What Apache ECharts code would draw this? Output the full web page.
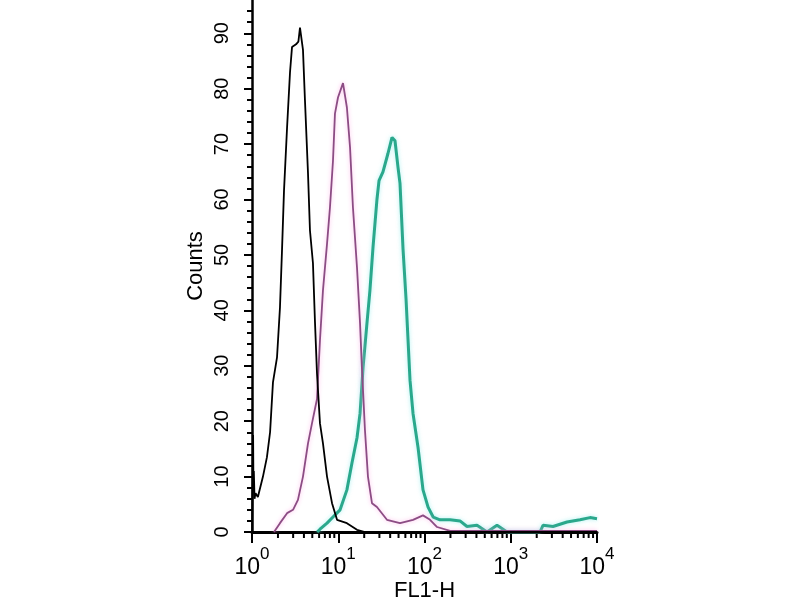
<!DOCTYPE html>
<html><head><meta charset="utf-8">
<script src="https://cdn.jsdelivr.net/npm/echarts@6/dist/echarts.min.js"></script>
<style>html,body{margin:0;padding:0;background:#fff}#c{width:800px;height:600px}</style>
</head><body><div id="c"></div>
<script>
// Control (black)
const controlX = [1.0, 1.03, 1.04, 1.05, 1.07, 1.1, 1.17, 1.34, 1.49, 1.62, 1.75, 1.95, 2.11, 2.23, 2.35, 2.55, 2.76, 2.91, 3.24, 3.45, 3.6, 3.9, 4.11, 4.46, 4.7, 5.09, 5.37, 5.67, 6.14, 6.65, 7.41, 8.47, 9.68, 12.6, 16.5, 20.4, 10000];
const controlY = [0, 17.5, 8, 11, 6, 7, 6.3, 10, 13.5, 18, 27, 31.5, 40.5, 51, 61.6, 73, 83, 87.5, 88, 88.5, 91, 87, 78, 64.7, 54.4, 48.5, 38, 28.6, 19.6, 16, 10, 5.2, 2.2, 1.6, 0.4, 0, 0];
// Purple
const purpleX = [1.8, 1.85, 2.11, 2.55, 2.99, 3.41, 3.9, 4.46, 4.96, 5.67, 6.14, 6.65, 7.41, 8.02, 8.69, 9.16, 9.93, 11.35, 12.6, 13.7, 14.8, 16.5, 17.9, 18.8, 20.4, 22.1, 24.6, 28.1, 36.7, 52, 73.6, 96, 116, 140, 198, 10000];
const purpleY = [0, 0.3, 1.6, 3.4, 4, 5.8, 10, 16, 19.6, 24, 34.6, 43.6, 52, 58.6, 67, 75.5, 78.4, 81, 76.6, 69.4, 58.6, 47.7, 37.6, 29.7, 18.4, 10, 5.2, 4.5, 2.2, 1.6, 2.2, 3, 2.2, 0.9, 0.2, 0.2];
// Green
const greenX = [5.7, 6.14, 7.41, 8.69, 10.5, 12.6, 14.4, 16.5, 17.9, 19.4, 21.5, 23.3, 25.3, 28.1, 29.7, 33, 37.7, 42, 45.5, 49.3, 52, 56.4, 61.1, 67.9, 73.6, 84.1, 96.1, 110, 126, 151, 198, 258, 311, 406, 531, 693, 906, 2183, 2366, 3090, 4487, 6353, 8298, 10000];
const greenY = [0, 0.5, 1.6, 2.7, 4, 7.6, 12.4, 17, 21.4, 29.7, 37.6, 43.6, 51.4, 60, 63.4, 65, 68.3, 71.2, 70.6, 65.8, 62.9, 51, 42, 27.4, 21.4, 15.3, 7.6, 4.5, 2.7, 2.2, 2.2, 2, 1, 1.2, 0, 1.2, 0, 0, 1.2, 1, 1.8, 2.2, 2.6, 2.4];
// Axis ticks
const yTicks = [0, 10, 20, 30, 40, 50, 60, 70, 80, 90];
const xDecades = [1, 10, 100, 1000, 10000];
const xName = 'FL1-H';
const yName = 'Counts';

const zip = (a, b) => a.map((v, i) => [v, b[i]]);
const chart = echarts.init(document.getElementById('c'));
const FONT = 'Liberation Sans, Arial, sans-serif';
chart.setOption({
  animation: false,
  backgroundColor: '#fff',
  grid: { left: 252, right: 203, top: 0, bottom: 68, outerBoundsMode: 'none', containLabel: false },
  xAxis: {
    type: 'log', logBase: 10, min: 1, max: 10000,
    name: xName, nameLocation: 'middle', nameGap: 48, nameMoveOverlap: false,
    nameTextStyle: { fontFamily: FONT, fontSize: 22, color: '#000' },
    axisLine: { show: true, lineStyle: { color: '#000', width: 3 } },
    axisTick: { show: true, inside: false, length: 11, lineStyle: { color: '#000', width: 2 } },
    splitLine: { show: false },
    axisLabel: {
      margin: 14, color: '#000',
      formatter: v => '{b|10}{s|' + Math.round(Math.log10(v)) + '}',
      rich: {
        b: { fontFamily: FONT, fontSize: 23, color: '#000', padding: [6, 0, 0, 0] },
        s: { fontFamily: FONT, fontSize: 17, color: '#000', padding: [0, 0, 20, 0] }
      }
    }
  },
  yAxis: {
    type: 'value', min: 0, max: 96, interval: 10,
    name: yName, nameLocation: 'middle', nameGap: 45, nameRotate: 90, nameMoveOverlap: false,
    nameTextStyle: { fontFamily: FONT, fontSize: 22, color: '#000' },
    axisLine: { show: true, lineStyle: { color: '#000', width: 2.5 } },
    axisTick: { show: true, inside: false, length: 8, customValues: yTicks, lineStyle: { color: '#000', width: 2 } },
    minorTick: { show: true, splitNumber: 5, length: 5, lineStyle: { color: '#000', width: 2 } },
    splitLine: { show: false },
    axisLabel: {
      customValues: yTicks, rotate: 90, margin: 20, color: '#000',
      fontFamily: FONT, fontSize: 20
    }
  },
  series: [
    { type: 'line', data: zip(greenX, greenY), showSymbol: false, symbol: 'none',
      lineStyle: { color: '#2aa88c', width: 3, shadowColor: 'rgba(140,235,235,0.7)', shadowBlur: 4 } },
    { type: 'line', data: zip(purpleX, purpleY), showSymbol: false, symbol: 'none',
      lineStyle: { color: '#8c4c84', width: 1.8, shadowColor: 'rgba(255,170,230,0.8)', shadowBlur: 4 } },
    { type: 'line', data: zip(controlX, controlY), showSymbol: false, symbol: 'none',
      lineStyle: { color: '#000', width: 1.8 } }
  ]
});

// log minor ticks (2..9 in each decade) placed via the axis scale
const y0 = chart.convertToPixel({ yAxisIndex: 0 }, 0);
const g = [];
for (let d = 0; d < xDecades.length - 1; d++) {
  for (let k = 2; k <= 9; k++) {
    const px = chart.convertToPixel({ xAxisIndex: 0 }, xDecades[d] * k);
    g.push({ type: 'line', shape: { x1: px, y1: y0, x2: px, y2: y0 + 6 }, style: { stroke: '#000', lineWidth: 2 } });
  }
}
chart.setOption({ graphic: g });
</script></body></html>
